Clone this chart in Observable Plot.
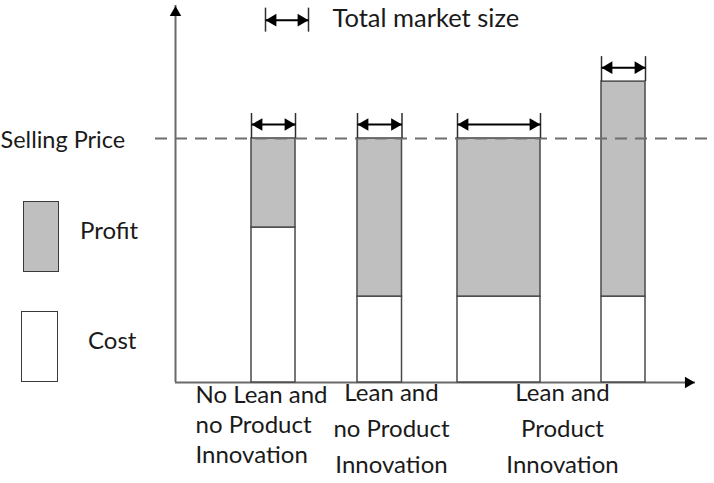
<!DOCTYPE html>
<html><head><meta charset="utf-8">
<script src="https://cdn.jsdelivr.net/npm/d3@7"></script>
<script src="https://cdn.jsdelivr.net/npm/@observablehq/plot@0.6"></script>
<style>
body{margin:0;background:#fff;}
#wrap{position:relative;width:714px;height:483px;font-family:Lato,sans-serif;color:#1a1a1a;}
#wrap svg{position:absolute;left:0;top:0;}
.sw{position:absolute;box-sizing:border-box;border:1.5px solid #3a3a3a;}
.lt{position:absolute;font-size:24px;line-height:24px;white-space:nowrap;}
</style></head><body>
<div id="wrap"></div>
<script>
// ---- data (conceptual units) ----
const scenarios = ["No Lean, no Product Innovation", "Lean, no Product Innovation", "Lean and Product Innovation (same price)", "Lean and Product Innovation (premium price)"];
const marketStart = [7.6, 18.2, 28.2, 42.6];
const marketSize  = [4.4, 4.45, 8.3, 4.4];
const unitCost    = [6.35, 3.52, 3.52, 3.52];
const unitPrice   = [10, 10, 10, 12.33];
const sellingPrice = 10;
const sellingPriceLabel = "Selling Price";
const categoryLabels = ["No Lean and\nno Product\nInnovation", "Lean and\nno Product\nInnovation", "Lean and\nProduct\nInnovation"];
const categoryX = [2.0, 21.6, 38.7];
const legendItems = ["Profit", "Cost"];
const keyLabel = "Total market size";
const keySpan = [{x1: 9.0, x2: 13.3, y: 14.85}];
const axisMax = {x: 52, y: 15.45};

// ---- derived tables ----
const bars = scenarios.map((s, i) => ({scenario: s, x1: marketStart[i], x2: marketStart[i] + marketSize[i], cost: unitCost[i], price: unitPrice[i]}));
const spans = bars.map(b => ({x1: b.x1, x2: b.x2, y: b.price}));
const labels = categoryLabels.map((t, i) => ({text: t, x: categoryX[i]}));

const FONT = "Lato, sans-serif";
const R = 6, S = R * Math.sqrt(Math.PI) * 0.6824; // triangle tip offset
const LABEL_FS = 24;

function spanArrow(data, {dy, tickTop, tickBottom}) {
  const edges = data.flatMap(d => [{x: d.x1, y: d.y}, {x: d.x2, y: d.y}]);
  return [
    Plot.ruleX(edges, {x: "x", y1: "y", y2: "y", insetTop: -tickTop, insetBottom: -tickBottom, stroke: "#2e2e2e", strokeWidth: 1.5}),
    Plot.link(data, {x1: "x1", x2: "x2", y1: "y", y2: "y", dy, stroke: "#000", strokeWidth: 2}),
    Plot.dot(data, {x: "x1", y: "y", dy, dx: S, symbol: "triangle2", rotate: -90, r: R, fill: "#000", stroke: "none"}),
    Plot.dot(data, {x: "x2", y: "y", dy, dx: -S, symbol: "triangle2", rotate: 90, r: R, fill: "#000", stroke: "none"})
  ];
}

const chart = Plot.plot({
  width: 714, height: 483,
  marginLeft: 175, marginRight: 19, marginTop: 5, marginBottom: 101,
  x: {domain: [0, axisMax.x], axis: null},
  y: {domain: [0, axisMax.y], axis: null},
  style: {fontFamily: FONT, background: "transparent", overflow: "visible"},
  marks: [
    // axes
    Plot.ruleX([0], {stroke: "#6a6a6a", strokeWidth: 2}),
    Plot.ruleY([0], {stroke: "#6a6a6a", strokeWidth: 2}),
    Plot.dot([0], {x: 0, y: axisMax.y, dy: S, symbol: "triangle2", r: 5.5, fill: "#000", stroke: "none"}),
    Plot.dot([0], {x: axisMax.x, y: 0, dx: -S, symbol: "triangle2", rotate: 90, r: 5.5, fill: "#000", stroke: "none"}),
    // bars
    Plot.rect(bars, {x1: "x1", x2: "x2", y1: 0, y2: "cost", fill: "#fff", stroke: "#4a4a4a", strokeWidth: 1.5}),
    Plot.rect(bars, {x1: "x1", x2: "x2", y1: "cost", y2: "price", fill: "#bfbfbf", stroke: "#4a4a4a", strokeWidth: 1.5}),
    // selling price line
    Plot.ruleY([sellingPrice], {stroke: "#6e6e6e", strokeWidth: 2, strokeDasharray: "12,8", insetLeft: -20, insetRight: -15}),
    Plot.text([sellingPriceLabel], {frameAnchor: "left", y: () => sellingPrice, dx: -175, dy: 1.5, textAnchor: "start", fontSize: 23.5, fill: "#1a1a1a"}),
    // market size arrows
    ...spanArrow(spans, {dy: -14, tickTop: 25, tickBottom: 0}),
    ...spanArrow(keySpan, {dy: 0, tickTop: 12, tickBottom: 12}),
    Plot.text([keyLabel], {x: () => keySpan[0].x2, y: () => keySpan[0].y, dx: 24, dy: -1, textAnchor: "start", fontSize: 25.5, fill: "#1a1a1a"}),
    // category labels
    Plot.text(labels.slice(0, 1), {x: "x", y: 0, text: "text", lineAnchor: "top", textAnchor: "start", dy: -1.6, fontSize: LABEL_FS, lineHeight: 1.27, fill: "#1a1a1a"}),
    Plot.text(labels.slice(1), {x: "x", y: 0, text: "text", lineAnchor: "top", textAnchor: "middle", dy: -6.6, fontSize: LABEL_FS, lineHeight: 1.5, fill: "#1a1a1a"})
  ]
});

const wrap = document.getElementById("wrap");
wrap.appendChild(chart);

// legend (left of the axis)
const legendLayout = [
  {fill: "#bfbfbf", box: [23, 201, 36, 71], text: [80, 217.7]},
  {fill: "#ffffff", box: [21, 311, 37, 71], text: [88, 327.7]}
];
legendItems.forEach((name, i) => {
  const L = legendLayout[i];
  const sw = document.createElement("div");
  sw.className = "sw";
  Object.assign(sw.style, {left: L.box[0] + "px", top: L.box[1] + "px", width: L.box[2] + "px", height: L.box[3] + "px", background: L.fill});
  wrap.appendChild(sw);
  const t = document.createElement("div");
  t.className = "lt";
  t.textContent = name;
  Object.assign(t.style, {left: L.text[0] + "px", top: L.text[1] + "px"});
  wrap.appendChild(t);
});
</script>
</body></html>
